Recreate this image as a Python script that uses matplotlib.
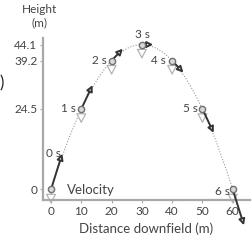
import matplotlib
matplotlib.use("Agg")
import matplotlib.pyplot as plt
from matplotlib.path import Path
from matplotlib.patches import PathPatch

# 数据：每秒一个位置与速度
times = [0, 1, 2, 3, 4, 5, 6]
dist = [0, 10, 20, 30, 40, 50, 60]
height = [0, 24.5, 39.2, 44.1, 39.2, 24.5, 0]
vel_x = [10, 10, 10, 10, 10, 10, 10]
vel_y = [29.4, 19.6, 9.8, 0, -9.8, -19.6, -29.4]
gravity = -9.8
xticks = [0, 10, 20, 30, 40, 50, 60]
yticks = [0, 24.5, 39.2, 44.1]

VSCALE = 0.37
GSCALE = 0.45
TXT = "#444444"
AXC = "#a8a8a8"
plt.rcParams["font.family"] = ["Lato", "DejaVu Sans"]

fig = plt.figure(figsize=(2.53, 2.40), dpi=100)
ax = fig.add_axes([43 / 253, 40 / 240, 207 / 253, 162 / 240])
ax.set_xlim(-2.64, 65.7)
ax.set_ylim(-3.2, 46.1)

# 轨迹：整条抛物线就是一条二次贝塞尔曲线
t_mid = (times[0] + times[-1]) / 2
ctrl = (dist[0] + vel_x[0] * t_mid, height[0] + vel_y[0] * t_mid)
traj = Path([(dist[0], height[0]), ctrl, (dist[-1], height[-1])],
            [Path.MOVETO, Path.CURVE3, Path.CURVE3])
ax.add_patch(PathPatch(traj, fill=False, ec="#9a9a9a", lw=0.8, ls=(0, (1, 1.5)), zorder=1))

# 重力箭头
for x, y in zip(dist, height):
    a = ax.annotate("", xy=(x, y + gravity * GSCALE), xytext=(x, y), annotation_clip=False,
                    arrowprops=dict(arrowstyle="-|>,head_length=0.6,head_width=0.32",
                                    fc="white", ec="#b4b4b4", lw=0.9,
                                    shrinkA=0, shrinkB=0), zorder=2)
    a.arrow_patch.set_clip_on(False)

# 速度箭头
for x, y, u, v in zip(dist, height, vel_x, vel_y):
    a = ax.annotate("", xy=(x + u * VSCALE, y + v * VSCALE), xytext=(x, y), annotation_clip=False,
                    arrowprops=dict(arrowstyle="-|>,head_length=0.35,head_width=0.18",
                                    fc="white", ec="#333333", lw=1.4,
                                    shrinkA=0, shrinkB=0), zorder=3)
    a.arrow_patch.set_clip_on(False)

ax.plot(dist, height, "o", ms=4.5, mfc="#d8d8d8", mec="#707070", mew=1.0, zorder=4,
        clip_on=False)

offsets = {0: (2, 36, "center"), 1: (-5, 0, "right"), 2: (-5, 0, "right"),
           3: (1, 10, "center"), 4: (-6, 0, "right"), 5: (-5, 0, "right"),
           6: (-3, -2, "right")}
for t, x, y in zip(times, dist, height):
    dx, dy, ha = offsets[t]
    ax.annotate(f"{t} s", xy=(x, y), xytext=(dx, dy), textcoords="offset pixels",
                ha=ha, va="center", fontsize=8.5, color=TXT, zorder=5)

ax.text(5.3, -0.1, "Velocity", ha="left", va="center", fontsize=9.5, color=TXT)

for s in ["top", "right"]:
    ax.spines[s].set_visible(False)
for s in ["left", "bottom"]:
    ax.spines[s].set_color(AXC)
    ax.spines[s].set_linewidth(1.6)

ax.set_xticks(xticks)
ax.set_yticks(yticks)
ax.set_yticklabels(["0", "24.5", "39.2", "44.1"])
ax.tick_params(axis="both", length=2.5, width=0.8, color=AXC, labelcolor=TXT,
               labelsize=8.5, pad=1.5)
ax.set_xlabel("Distance downfield (m)", fontsize=9.5, color=TXT, labelpad=4)

fig.text(40 / 253, 1 - 16 / 240, "Height\n(m)", ha="center", va="center",
         fontsize=8.5, color=TXT, linespacing=1.3)
fig.text(0, 1 - 83 / 240, ")", ha="left", va="center", fontsize=12, color="#222222")

fig.savefig("out.png", dpi=100)
